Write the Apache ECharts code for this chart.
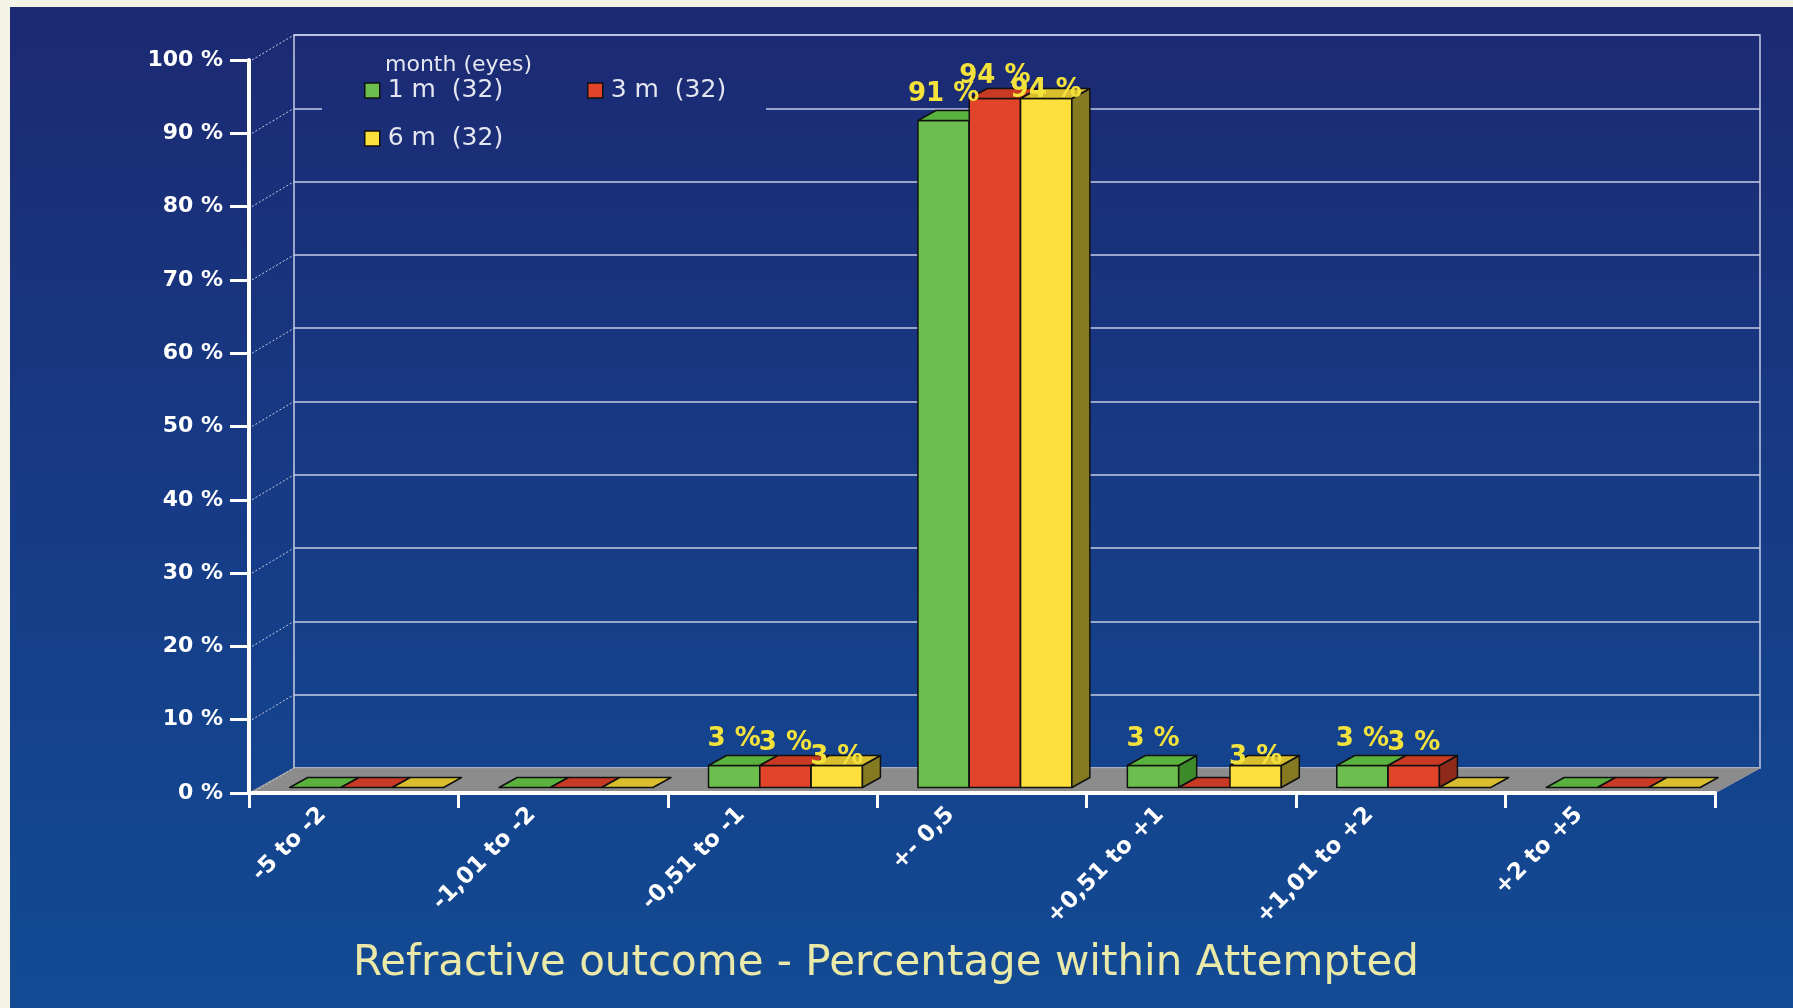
<!DOCTYPE html>
<html>
<head>
<meta charset="utf-8">
<script src="https://cdn.jsdelivr.net/npm/echarts@6/dist/echarts.min.js"></script>
<style>
  html, body { margin: 0; padding: 0; background: #f4f3e6; }
  #chart { width: 1793px; height: 1008px; }
</style>
</head>
<body>
<div id="chart"></div>
<script>
// Refractive outcome by follow-up month
const categories = ['-5 to -2', '-1,01 to -2', '-0,51 to -1', '+- 0,5', '+0,51 to +1', '+1,01 to +2', '+2 to +5'];
const month1 = [0, 0, 3, 91, 3, 3, 0];
const month3 = [0, 0, 3, 94, 0, 3, 0];
const month6 = [0, 0, 3, 94, 3, 0, 0];
const seriesNames = ['1 m  (32)', '3 m  (32)', '6 m  (32)'];
const legendTitle = 'month (eyes)';
const axisTitle = 'Refractive outcome - Percentage within Attempted';
const yMin = 0, yMax = 100, yStep = 10;

// pseudo-3D geometry (pixels) : offset of the back wall relative to the front plane
const DEPTH_X = 45, DEPTH_Y = -25;
const F0 = 0.22, F1 = 0.62;       // bar front / back depth fractions
const BAR_FRAC = 0.245;           // bar width as fraction of a category
const GROUP_SHIFT = 3;

const palettes = [
  { front: '#6cbf4e', top: '#5ab23e', side: '#3c8a2a' },
  { front: '#e2442a', top: '#c93a25', side: '#8e2a1a' },
  { front: '#fde03c', top: '#d9bf2e', side: '#857a22' }
];
const labelLift = [26, 22, 8];

const bgGradient = {
  type: 'linear', x: 0, y: 0, x2: 0, y2: 1008, global: true,
  colorStops: [
    { offset: 0, color: '#1c2972' },
    { offset: 0.5, color: '#173b86' },
    { offset: 1, color: '#124b94' }
  ]
};

const yTickValues = [];
for (let v = yMin; v <= yMax; v += yStep) yTickValues.push(v);

function toPairs(arr) { return arr.map((v, i) => [i, v]); }

function barRenderer(idx) {
  const pal = palettes[idx];
  return function (params, api) {
    const ci = api.value(0), v = api.value(1);
    const base = api.coord([ci, 0]);
    const top = api.coord([ci, v]);
    const cw = api.size([1, 0])[0];
    const bw = cw * BAR_FRAC;
    const x0 = base[0] - 1.5 * bw + idx * bw + GROUP_SHIFT;
    const x1 = x0 + bw;
    const fx = DEPTH_X * F0, fy = DEPTH_Y * F0;
    const bx = DEPTH_X * F1, by = DEPTH_Y * F1;
    const yb = base[1], yt = top[1];
    const stroke = { stroke: '#111', lineWidth: 1.5, lineJoin: 'round' };
    const children = [];
    if (v > 0) {
      children.push({
        type: 'polygon',
        shape: { points: [[x0 + fx, yb + fy], [x1 + fx, yb + fy], [x1 + fx, yt + fy], [x0 + fx, yt + fy]] },
        style: Object.assign({ fill: pal.front }, stroke)
      });
      children.push({
        type: 'polygon',
        shape: { points: [[x1 + fx, yb + fy], [x1 + bx, yb + by], [x1 + bx, yt + by], [x1 + fx, yt + fy]] },
        style: Object.assign({ fill: pal.side }, stroke)
      });
    }
    children.push({
      type: 'polygon',
      shape: { points: [[x0 + fx, yt + fy], [x1 + fx, yt + fy], [x1 + bx, yt + by], [x0 + bx, yt + by]] },
      style: Object.assign({ fill: pal.top }, stroke)
    });
    if (v > 0) {
      children.push({
        type: 'text',
        z2: 10,
        style: {
          x: (x0 + x1) / 2 + fx, y: yt + fy - labelLift[idx],
          text: v + ' %',
          fill: '#f4e23c',
          font: 'bold 26px "DejaVu Sans", sans-serif',
          align: 'center', verticalAlign: 'middle'
        }
      });
    }
    return { type: 'group', children: children };
  };
}

function floorRenderer(params, api) {
  const cw = api.size([1, 0])[0];
  const first = api.coord([0, yMin]);
  const last = api.coord([categories.length - 1, yMin]);
  const l = first[0] - cw / 2, r = last[0] + cw / 2, y = first[1];
  return {
    type: 'polygon',
    shape: { points: [[l, y], [r, y], [r + DEPTH_X, y + DEPTH_Y], [l + DEPTH_X, y + DEPTH_Y]] },
    style: { fill: '#8c8c8c', stroke: '#9a9a9a', lineWidth: 1 }
  };
}

function sideWallRenderer(params, api) {
  const cw = api.size([1, 0])[0];
  const p = api.coord([0, api.value(1)]);
  const l = p[0] - cw / 2;
  return {
    type: 'line',
    shape: { x1: l + 3, y1: p[1], x2: l + DEPTH_X, y2: p[1] + DEPTH_Y },
    style: { stroke: '#c5cce4', lineWidth: 1, lineDash: [2, 2] }
  };
}

const chart = echarts.init(document.getElementById('chart'), null, { renderer: 'canvas' });

const option = {
  animation: false,
  backgroundColor: '#f4f3e6',
  graphic: {
    elements: [
      { type: 'rect', z: -100, shape: { x: 10, y: 7, width: 1783, height: 1001 }, style: { fill: bgGradient } },
      { type: 'rect', z: 1, shape: { x: 322, y: 45, width: 444, height: 125 }, style: { fill: bgGradient } },
      {
        type: 'text', z: 5, x: 385, y: 65,
        style: { text: legendTitle, fill: '#e4e6f0', font: '22px "DejaVu Sans", sans-serif', verticalAlign: 'middle' }
      },
      {
        type: 'text', z: 5, x: 886, y: 964,
        style: { text: axisTitle, fill: '#ebe9a8', font: '42px "DejaVu Sans", sans-serif', align: 'center', verticalAlign: 'middle' }
      }
    ]
  },
  legend: [0, 1, 2].map(i => ({
    data: [{ name: seriesNames[i], icon: 'rect' }],
    left: [364, 587, 364][i],
    top: [78, 78, 126][i],
    padding: 0,
    itemWidth: 15,
    itemHeight: 15,
    itemGap: 8,
    itemStyle: { borderColor: '#111', borderWidth: 1.5 },
    textStyle: { color: '#e4e6f0', fontSize: 25, fontFamily: 'DejaVu Sans', padding: [0, 0, 0, 3] },
    selectedMode: false,
    z: 6
  })),
  grid: [
    { left: 249, top: 60, width: 1466, height: 733, show: false },
    { left: 294, top: 35, width: 1466, height: 733, show: true, borderColor: '#c5cce4', borderWidth: 1.5, backgroundColor: 'transparent' }
  ],
  xAxis: [
    {
      type: 'category', gridIndex: 0, data: categories, z: 5,
      axisLine: { lineStyle: { color: '#ffffff', width: 4 } },
      axisTick: { show: true, length: 15, lineStyle: { color: '#ffffff', width: 3 } },
      axisLabel: {
        rotate: 45, margin: -13, padding: [0, 44, 0, 0],
        color: '#ffffff', fontSize: 23, fontWeight: 'bold', fontFamily: 'DejaVu Sans'
      },
      splitLine: { show: false }
    },
    {
      type: 'category', gridIndex: 1, data: categories, show: false
    }
  ],
  yAxis: [
    {
      type: 'value', gridIndex: 0, min: yMin, max: yMax, interval: yStep, z: 5,
      axisLine: { show: true, lineStyle: { color: '#ffffff', width: 4 } },
      axisTick: { show: true, length: 19, lineStyle: { color: '#ffffff', width: 3 } },
      axisLabel: {
        margin: 26, formatter: '{value} %',
        color: '#ffffff', fontSize: 22, fontWeight: 'bold', fontFamily: 'DejaVu Sans'
      },
      splitLine: { show: false }
    },
    {
      type: 'value', gridIndex: 1, min: yMin, max: yMax, interval: yStep,
      axisLine: { show: false }, axisTick: { show: false }, axisLabel: { show: false },
      splitLine: { show: true, lineStyle: { color: '#c5cce4', width: 1.5 } }
    }
  ],
  series: [
    {
      name: 'floor', type: 'custom', xAxisIndex: 0, yAxisIndex: 0, z: 1,
      renderItem: floorRenderer, data: [[0, yMin]], silent: true
    },
    {
      name: 'side wall', type: 'custom', xAxisIndex: 0, yAxisIndex: 0, z: 1,
      renderItem: sideWallRenderer, data: yTickValues.map(v => [0, v]), silent: true
    },
    {
      name: seriesNames[0], type: 'custom', xAxisIndex: 0, yAxisIndex: 0,
      itemStyle: { color: palettes[0].front },
      renderItem: barRenderer(0), data: toPairs(month1), encode: { x: 0, y: 1 }
    },
    {
      name: seriesNames[1], type: 'custom', xAxisIndex: 0, yAxisIndex: 0,
      itemStyle: { color: palettes[1].front },
      renderItem: barRenderer(1), data: toPairs(month3), encode: { x: 0, y: 1 }
    },
    {
      name: seriesNames[2], type: 'custom', xAxisIndex: 0, yAxisIndex: 0,
      itemStyle: { color: palettes[2].front },
      renderItem: barRenderer(2), data: toPairs(month6), encode: { x: 0, y: 1 }
    }
  ]
};

chart.setOption(option);
</script>
</body>
</html>
